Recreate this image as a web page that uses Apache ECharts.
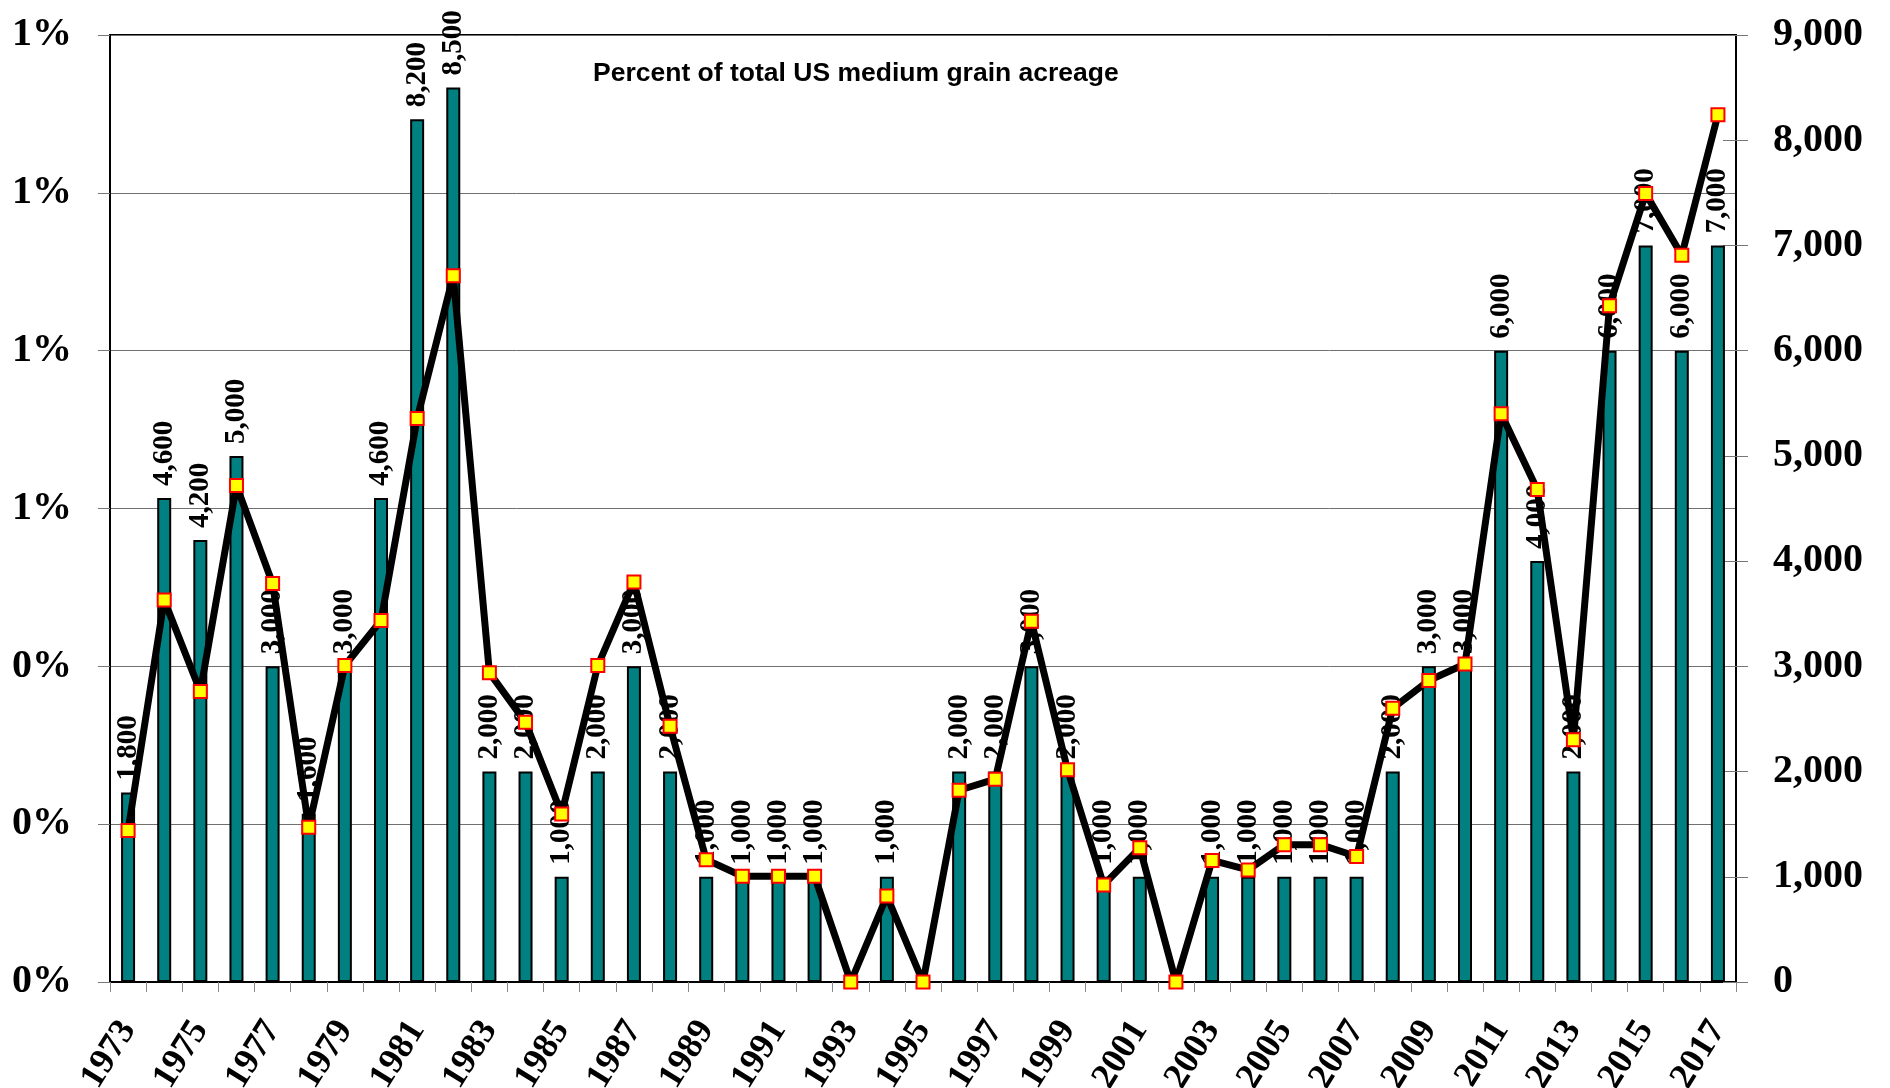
<!DOCTYPE html>
<html>
<head>
<meta charset="utf-8">
<script src="https://cdn.jsdelivr.net/npm/echarts@6/dist/echarts.min.js"></script>
<style>
html,body{margin:0;padding:0;background:#fff;}
#chart{width:1890px;height:1088px;}
</style>
</head>
<body>
<div id="chart"></div>
<script>
var years = ['1973','1974','1975','1976','1977','1978','1979','1980','1981','1982','1983','1984','1985','1986','1987','1988','1989','1990','1991','1992','1993','1994','1995','1996','1997','1998','1999','2000','2001','2002','2003','2004','2005','2006','2007','2008','2009','2010','2011','2012','2013','2014','2015','2016','2017'];
var acres = [1800,4600,4200,5000,3000,1600,3000,4600,8200,8500,2000,2000,1000,2000,3000,2000,1000,1000,1000,1000,0,1000,0,2000,2000,3000,2000,1000,1000,0,1000,1000,1000,1000,1000,2000,3000,3000,6000,4000,2000,6000,7000,6000,7000];
var pctShare = [0.192,0.484,0.368,0.629,0.505,0.196,0.401,0.458,0.714,0.895,0.392,0.329,0.213,0.401,0.507,0.324,0.155,0.134,0.134,0.134,0,0.109,0,0.243,0.257,0.457,0.269,0.123,0.170,0,0.154,0.142,0.174,0.174,0.159,0.347,0.382,0.403,0.720,0.624,0.307,0.857,0.999,0.921,1.099];
var pctTicks = {min:0, max:1.2, interval:0.2};
var acreTicks = {min:0, max:9000, interval:1000};
var titleText = 'Percent of total US medium grain acreage';

var serif = '"Liberation Serif","Times New Roman",serif';
var chart = echarts.init(document.getElementById('chart'), null, {renderer:'canvas'});
function fmtNum(v){ return String(v).replace(/\B(?=(\d{3})+(?!\d))/g, ','); }

chart.setOption({
  animation:false,
  backgroundColor:'#fff',
  title:{
    text:titleText, left:588, top:55,
    textStyle:{fontFamily:'"Liberation Sans",Arial,sans-serif', fontWeight:'bold', fontSize:26.5, color:'#000'}
  },
  grid:{left:110, right:154, top:35, bottom:106, containLabel:false, outerBoundsMode:'none',
    show:true, borderColor:'#000', borderWidth:2, backgroundColor:'transparent'},
  xAxis:{
    type:'category', data:years, boundaryGap:true,
    axisLine:{show:true, lineStyle:{color:'#000', width:2}},
    axisTick:{show:true, interval:0, length:10, lineStyle:{color:'#888', width:1}},
    axisLabel:{interval:1, rotate:58, margin:42, fontFamily:serif, fontWeight:'bold', fontSize:36, color:'#000'},
    splitLine:{show:false}
  },
  yAxis:[
    {
      type:'value', position:'left', min:pctTicks.min, max:pctTicks.max, interval:pctTicks.interval,
      axisLine:{show:true, lineStyle:{color:'#000', width:2}},
      axisTick:{show:true, length:12, lineStyle:{color:'#777'}},
      axisLabel:{margin:38, fontFamily:serif, fontWeight:'bold', fontSize:40, color:'#000',
        formatter:function(v){ return Math.round(v) + '%'; }},
      splitLine:{show:true, lineStyle:{color:'#707070', width:1}}
    },
    {
      type:'value', position:'right', min:acreTicks.min, max:acreTicks.max, interval:acreTicks.interval,
      axisLine:{show:true, lineStyle:{color:'#000', width:2}},
      axisTick:{show:true, length:12, lineStyle:{color:'#777'}},
      axisLabel:{margin:37, fontFamily:serif, fontWeight:'bold', fontSize:40, color:'#000',
        formatter:function(v){ return fmtNum(v); }},
      splitLine:{show:false}
    },
    {
      type:'value', position:'right', min:acreTicks.min, max:acreTicks.max, interval:acreTicks.interval,
      axisLine:{show:false},
      axisTick:{show:true, inside:true, length:13, lineStyle:{color:'#777'}},
      axisLabel:{show:false},
      splitLine:{show:false}
    }
  ],
  series:[
    {
      type:'bar', yAxisIndex:1, data:acres, barWidth:14,
      itemStyle:{color:'#008080', borderColor:'#000', borderWidth:2},
      label:{show:true, position:'top', rotate:90, align:'left', verticalAlign:'middle', distance:12,
        fontFamily:serif, fontWeight:'bold', fontSize:29, color:'#000',
        formatter:function(p){ return p.value ? fmtNum(p.value) : ''; }},
      z:2
    },
    {
      type:'line', yAxisIndex:0, data:pctShare,
      lineStyle:{color:'#000', width:7},
      symbol:'rect', symbolSize:13, showAllSymbol:true,
      itemStyle:{color:'#ffff00', borderColor:'#ff0000', borderWidth:2},
      z:3
    }
  ]
});
</script>
</body>
</html>
